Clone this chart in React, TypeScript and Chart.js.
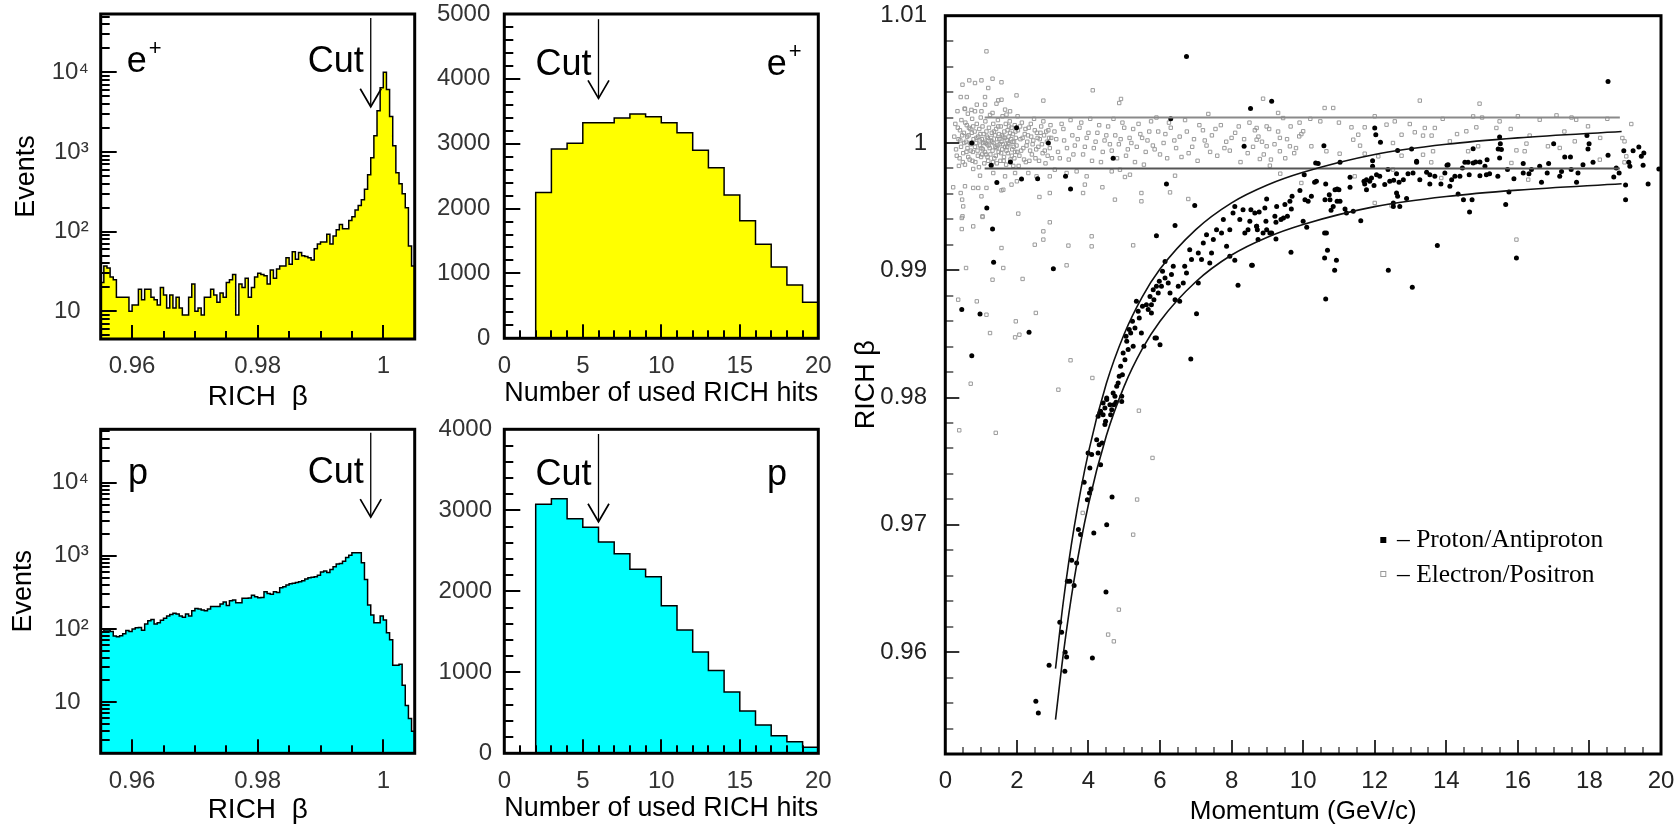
import React, { useEffect, useRef } from 'react';
import { Chart, registerables } from 'chart.js';

Chart.register(...registerables);

// ---------------- Histogram data ----------------
// RICH beta histograms: 100 bins of 0.0005 from 0.955 to 1.005
const betaBinStart = 0.955;
const betaBinWidth = 0.0005;
const positronBetaCounts = [
  23, 37, 35, 27, 25, 15, 15, 15, 15, 10,
  12, 12, 19, 14, 19, 19, 15, 14, 12, 20,
  16, 11, 16, 11, 15, 11, 9, 9, 15, 22,
  10, 11, 9, 15, 15, 19, 16, 13, 17, 15,
  23, 25, 29, 9, 22, 20, 26, 15, 20, 27,
  30, 29, 28, 22, 33, 26, 34, 37, 37, 47,
  39, 56, 45, 55, 50, 49, 47, 44, 61, 70,
  74, 74, 93, 70, 88, 106, 123, 109, 109, 138,
  154, 187, 213, 252, 340, 520, 850, 1600, 3300, 6400,
  10000, 6100, 2800, 1200, 550, 400, 300, 200, 66, 37,
];
const protonBetaCounts = [
  90, 97, 97, 92, 80, 78, 81, 86, 95, 92,
  100, 104, 105, 96, 117, 130, 135, 117, 122, 132,
  140, 150, 158, 164, 160, 150, 145, 160, 150, 178,
  191, 188, 181, 178, 187, 202, 202, 202, 219, 233,
  210, 243, 248, 229, 229, 262, 262, 265, 288, 276,
  267, 270, 323, 306, 297, 323, 316, 366, 378, 398,
  415, 420, 430, 442, 456, 481, 501, 510, 517, 540,
  600, 620, 593, 652, 708, 770, 786, 845, 948, 1020,
  1100, 1100, 1100, 803, 476, 212, 155, 122, 122, 150,
  133, 89, 71, 32, 32, 33, 17, 9, 6, 4,
];

// Number of used RICH hits: 20 bins of width 1 from 0 to 20
const hitsBinStart = 0;
const hitsBinWidth = 1;
const positronHitsCounts = [0, 0, 2246, 2919, 3006, 3325, 3325, 3397, 3458, 3417, 3325, 3171, 2898, 2631, 2210, 1814, 1449, 1100, 822, 555];
const protonHitsCounts = [0, 0, 3074, 3144, 2897, 2790, 2609, 2465, 2272, 2181, 1823, 1523, 1251, 1021, 757, 523, 350, 218, 144, 74];

const cutBeta = 0.998;
const cutHits = 6;

// ---------------- Tick labels ----------------
const betaTickValues = [0.96, 0.98, 1];
const logTickValues = [10, 100, 1000, 10000];
const logTickLabels = ['10\u2004', '10²', '10³', '10⁴'];
const hitsTickValues = [0, 5, 10, 15, 20];
const positronHitsYTicks = [0, 1000, 2000, 3000, 4000, 5000];
const protonHitsYTicks = [0, 1000, 2000, 3000, 4000];
const momentumTickValues = [0, 2, 4, 6, 8, 10, 12, 14, 16, 18, 20];
const richBetaTickValues = [0.96, 0.97, 0.98, 0.99, 1, 1.01];

// ---------------- Scatter data (momentum GeV/c, RICH beta) ----------------
const protonPoints: [number, number][] = [
  [6.74, 1.0068], [8.53, 1.0027], [6.30, 1.0019], [1.99, 1.0012], [0.74, 1.0000], [2.88, 1.0000], [8.35, 0.99974],
  [4.69, 0.9988], [1.28, 0.99825], [1.82, 0.9985], [1.44, 0.9969], [2.13, 0.99717], [2.58, 0.9972], [3.36, 0.99738],
  [3.50, 0.99639], [6.18, 0.99678], [6.97, 0.99508], [1.16, 0.99489], [1.32, 0.99324], [6.42, 0.99351], [5.90, 0.99272],
  [1.35, 0.99063], [3.02, 0.99013], [8.18, 0.98882], [7.02, 0.98659], [0.46, 0.98691], [0.97, 0.98657], [2.34, 0.98513],
  [0.74, 0.98329], [6.86, 0.98303], [8.58, 0.99039], [8.09, 0.99078], [7.07, 0.98900], [5.90, 0.98468], [6.0, 0.98416],
  [9.12, 1.00327],
  [3.20, 0.96235], [3.25, 0.96156], [2.90, 0.95897], [3.35, 0.95999], [3.39, 0.95962], [3.34, 0.9585], [2.53, 0.95614],
  [2.60, 0.95522], [4.11, 0.95954], [4.49, 0.96473], [4.51, 0.97], [4.66, 0.97219], [4.15, 0.96937], [3.41, 0.96557],
  [3.48, 0.96557], [3.60, 0.96523], [3.53, 0.96722], [3.67, 0.96701], [3.72, 0.96963], [3.78, 0.96924], [3.88, 0.97335],
  [3.99, 0.97565], [4.09, 0.97552], [4.04, 0.97447], [4.03, 0.97251], [4.07, 0.97282], [3.97, 0.97198], [4.23, 0.97669],
  [4.30, 0.97629], [4.27, 0.97565], [4.34, 0.97473], [4.38, 0.97644], [4.32, 0.97879], [4.41, 0.97866], [4.48, 0.97814],
  [4.46, 0.97788], [4.51, 0.97997], [4.65, 0.97905], [4.71, 0.97944], [4.77, 0.97963], [4.93, 0.9797],
  [4.27, 0.97853], [4.34, 0.97892], [4.46, 0.97918], [4.60, 0.97944], [4.62, 0.97866], [4.74, 0.9801], [4.79, 0.98089],
  [4.86, 0.98167], [4.90, 0.98246], [5.05, 0.98481], [5.14, 0.98534], [5.23, 0.98599], [5.30, 0.98547], [5.42, 0.98625],
  [5.51, 0.98717], [5.67, 0.98691], [5.72, 0.98795], [5.83, 0.98769], [5.98, 0.98913], [5.81, 0.98848],
  [4.41, 0.97958], [4.51, 0.97984], [4.69, 0.98036], [4.83, 0.98115], [4.93, 0.9801], [4.95, 0.9818], [5.02, 0.98298],
  [4.97, 0.9835], [5.11, 0.98377], [5.07, 0.98442], [5.18, 0.98507], [5.25, 0.98403], [5.34, 0.98756], [5.39, 0.98678],
  [5.48, 0.98507], [5.55, 0.98403], [5.62, 0.9873], [5.76, 0.9873], [5.76, 0.98665], [5.90, 0.98874], [5.95, 0.98822],
  [6.04, 0.98874], [6.14, 0.9894], [6.07, 0.98992], [6.23, 0.9890], [6.32, 0.98966], [6.37, 0.99031], [6.42, 0.98769],
  [6.51, 0.98874], [6.55, 0.98756], [6.65, 0.989], [6.69, 0.99031], [6.74, 0.98979], [6.83, 0.99162], [6.88, 0.99084],
  [7.07, 0.99136], [7.16, 0.99084], [7.21, 0.99214], [7.30, 0.9928], [7.44, 0.99136], [7.49, 0.99241], [7.58, 0.99319],
  [7.72, 0.99293], [7.77, 0.99398], [7.86, 0.99188], [7.95, 0.99319], [8.04, 0.9945], [8.09, 0.99502], [8.23, 0.99398],
  [8.32, 0.99476], [8.37, 0.99293], [8.46, 0.99319], [8.65, 0.9945], [8.70, 0.99345], [8.74, 0.99241], [7.95, 0.9911],
  [7.39, 0.99057], [6.14, 0.9907], [6.28, 0.98822], [5.86, 0.98468],
  [18.52, 1.00484], [12.0, 1.00118], [12.03, 1.00065], [12.16, 1.00005], [10.58, 0.99979], [15.49, 1.00047],
  [15.51, 0.99995], [15.54, 0.99948], [14.75, 0.99955], [12.64, 0.99942], [13.03, 0.99953], [17.93, 1.00058],
  [17.99, 0.99995], [17.96, 0.99953], [17.0, 0.99995], [17.31, 0.9989], [17.47, 0.9989], [18.52, 0.99903],
  [18.96, 0.9994], [19.22, 0.9994], [19.38, 0.99969], [19.45, 0.99895], [19.52, 0.99921], [19.50, 0.99825],
  [19.1, 0.99848], [19.13, 0.99817], [19.94, 0.99796], [19.64, 0.99678], [19.01, 0.99670], [19.01, 0.99555],
  [18.68, 0.99733], [18.83, 0.99764], [18.75, 0.99804], [17.64, 0.99691], [18.10, 0.99848], [17.82, 0.9983],
  [17.68, 0.99764], [17.49, 0.99791], [17.17, 0.99738], [17.22, 0.99777], [16.86, 0.99838], [16.61, 0.99817],
  [16.38, 0.99791], [16.15, 0.99838], [16.31, 0.99759], [16.66, 0.99691], [16.82, 0.99764], [15.71, 0.99791],
  [15.44, 0.99738], [15.21, 0.99759], [15.08, 0.99817], [15.14, 0.99869], [14.94, 0.99851], [14.82, 0.99851],
  [14.61, 0.99848], [14.52, 0.99848], [14.45, 0.99804], [14.64, 0.99751], [14.94, 0.99743], [14.38, 0.99738],
  [14.24, 0.99738], [14.15, 0.99712], [14.02, 0.99825], [13.96, 0.99764], [14.10, 0.9966], [13.85, 0.99678],
  [13.68, 0.99738], [13.54, 0.99678], [13.45, 0.9977], [13.26, 0.99712], [13.17, 0.99848], [13.07, 0.99764],
  [12.93, 0.99759], [12.80, 0.99712], [12.68, 0.99691], [12.61, 0.99607], [12.53, 0.99707], [12.42, 0.99699],
  [12.28, 0.99673], [12.14, 0.99738], [11.98, 0.99667], [11.94, 0.99861], [11.86, 0.99699], [11.77, 0.99633],
  [11.72, 0.99678], [12.89, 0.99563], [12.70, 0.99502], [12.52, 0.99529], [14.33, 0.99599], [14.48, 0.99555],
  [14.72, 0.99555], [14.65, 0.99458], [15.66, 0.99516], [15.75, 0.99615], [15.96, 0.99097], [13.75, 0.99194],
  [12.38, 0.99000], [13.05, 0.98866], [10.63, 0.98775], [10.68, 0.99157], [10.60, 0.99097], [10.93, 0.99078],
  [10.88, 0.99], [10.60, 0.99293], [11.61, 0.9939], [11.40, 0.99463], [11.17, 0.99482], [10.95, 0.99542],
  [10.78, 0.99471], [10.75, 0.99555], [10.61, 0.99555], [10.89, 0.99633], [10.95, 0.99639], [11.0, 0.99633],
  [10.63, 0.99678], [10.37, 0.99699], [10.05, 0.99555], [10.14, 0.99542], [10.23, 0.99581], [9.91, 0.99626],
  [9.69, 0.99581], [9.63, 0.99542], [9.49, 0.99516], [9.67, 0.99482], [9.26, 0.99502], [9.45, 0.99411],
  [9.56, 0.99424], [9.38, 0.99398], [9.21, 0.99424], [9.24, 0.99377], [8.96, 0.99385], [8.98, 0.99319],
  [8.88, 0.99293], [8.70, 0.99345], [8.72, 0.99319], [9.07, 0.99293], [9.12, 0.99293], [9.24, 0.99246],
  [9.66, 0.99141], [10.0, 0.99385], [10.1, 0.99338], [8.56, 0.99039], [8.98, 0.9956], [8.93, 0.99489],
  [8.77, 0.99458], [8.54, 0.99476], [8.51, 0.99385], [10.35, 0.99843], [10.42, 0.99838], [11.03, 0.99848],
  [11.31, 0.9973], [11.31, 0.99652], [11.70, 0.99699], [11.77, 0.99712], [11.91, 0.99725], [11.94, 0.99817],
  [12.05, 0.99751], [12.37, 0.99791], [12.61, 0.99759], [13.17, 0.99856], [13.54, 0.99751], [14.05, 0.9983],
  [15.49, 0.99882], [15.45, 0.99953], [12.64, 0.99581], [12.52, 0.99502], [10.03, 0.99751], [11.03, 0.99542],
  [11.21, 0.9945], [10.84, 0.99502], [10.73, 0.99594], [10.65, 0.99293], [10.32, 0.99691], [14.75, 0.99843],
  [15.12, 0.99751], [15.89, 0.9972], [16.15, 0.99764],
];

const electronPoints: [number, number][] = [
  // dense low-momentum band
  [0.25, 1.0005], [0.3, 0.9995], [0.35, 1.0012], [0.4, 0.9988], [0.42, 1.0002], [0.45, 1.0018], [0.5, 0.9992],
  [0.52, 1.0008], [0.55, 0.9983], [0.58, 1.0001], [0.6, 1.0014], [0.62, 0.9996], [0.65, 1.0006], [0.68, 0.9987],
  [0.7, 1.0011], [0.72, 0.9999], [0.75, 1.0019], [0.77, 0.9993], [0.79, 1.0003],
  [0.28, 1.0015], [0.32, 0.9990], [0.37, 1.0003], [0.41, 1.0010], [0.44, 0.9997], [0.47, 1.0006], [0.49, 0.9985],
  [0.53, 1.0000], [0.56, 1.0016], [0.59, 0.9993], [0.61, 1.0005], [0.64, 0.9989], [0.66, 1.0012], [0.69, 1.0000],
  [0.71, 0.9994], [0.74, 1.0008], [0.76, 0.9986], [0.78, 1.0013], [0.63, 1.0023], [0.38, 0.9982], [0.34, 1.0025],
  [0.54, 1.0027], [0.73, 1.0026],
  [0.82, 1.0009], [0.84, 0.9985], [0.86, 1.0000], [0.88, 1.0015], [0.9, 0.9994], [0.92, 1.0005], [0.94, 0.9981],
  [0.95, 1.0011], [0.97, 0.9998], [0.99, 1.0020], [1.0, 0.9989], [1.02, 1.0003], [1.04, 1.0013], [1.05, 0.9995],
  [1.07, 1.0007], [1.09, 0.9984], [1.1, 1.0001], [1.12, 1.0017], [1.14, 0.9991], [1.15, 1.0009], [1.17, 0.9999],
  [1.19, 1.0004], [1.2, 0.9986], [1.22, 1.0012], [1.24, 0.9996], [1.25, 1.0022], [1.27, 1.0002], [1.29, 0.9982],
  [1.3, 1.0008], [1.32, 0.9994], [1.34, 1.0015], [1.35, 1.0000], [1.37, 0.9988], [1.39, 1.0006], [1.4, 0.9997],
  [1.42, 1.0011], [1.44, 0.9984], [1.45, 1.0003], [1.47, 1.0018], [1.49, 0.9993], [1.5, 1.0007], [1.52, 0.9999],
  [1.54, 0.9986], [1.55, 1.0013], [1.57, 1.0001], [1.59, 0.9995], [1.6, 1.0021], [1.62, 1.0005], [1.64, 0.9989],
  [1.65, 1.0009], [1.67, 0.9997], [1.69, 1.0015], [1.7, 0.9983], [1.72, 1.0002], [1.74, 1.0010], [1.75, 0.9992],
  [1.77, 1.0005], [1.79, 0.9999], [1.8, 1.0017], [1.82, 0.9987], [1.84, 1.0003], [1.85, 1.0012], [1.87, 0.9995],
  [1.89, 1.0007], [1.9, 0.9982], [1.92, 1.0001], [1.94, 1.0014], [1.95, 0.9993], [1.97, 1.0004], [1.99, 0.9998],
  [0.83, 0.9997], [0.87, 1.0004], [0.91, 0.9990], [0.96, 1.0002], [1.01, 0.9996], [1.06, 1.0000], [1.11, 0.9993],
  [1.16, 1.0005], [1.21, 0.9998], [1.26, 0.9991], [1.31, 1.0001], [1.36, 1.0009], [1.41, 0.9990], [1.46, 0.9998],
  [1.51, 1.0003], [1.56, 0.9992], [1.61, 0.9999], [1.66, 1.0004], [1.71, 0.9994], [1.76, 1.0000], [1.81, 1.0008],
  [1.86, 0.9990], [1.91, 0.9997], [1.96, 1.0009], [2.01, 0.9993], [1.13, 1.0000], [1.28, 1.0004], [1.43, 0.9996],
  [1.58, 1.0006], [1.73, 0.9997], [1.88, 1.0001], [1.03, 0.9991], [0.98, 1.0007], [1.18, 0.9989], [1.33, 0.9985],
  [1.48, 1.0013], [1.63, 0.9986], [1.78, 1.0013], [1.93, 0.9988],
  [2.03, 1.0010], [2.07, 0.9990], [2.1, 1.0003], [2.14, 1.0016], [2.18, 0.9996], [2.22, 1.0007], [2.25, 0.9985],
  [2.29, 1.0001], [2.33, 1.0012], [2.37, 0.9994], [2.4, 1.0005], [2.44, 0.9999], [2.48, 1.0019], [2.52, 0.9988],
  [2.56, 1.0008], [2.6, 0.9997], [2.64, 1.0003], [2.68, 1.0013], [2.72, 0.9992], [2.76, 1.0006], [2.8, 0.9984],
  [2.84, 1.0001], [2.88, 1.0010], [2.92, 0.9996], [2.96, 1.0004],
  [2.02, 1.0021], [2.05, 0.9982], [2.09, 1.0013], [2.12, 0.9994], [2.16, 1.0004], [2.2, 0.9987], [2.24, 1.0011],
  [2.27, 0.9998], [2.31, 1.0006], [2.35, 0.9986], [2.39, 1.0015], [2.42, 0.9991], [2.46, 1.0002], [2.5, 1.0010],
  [2.54, 0.9995], [2.58, 1.0004], [2.62, 0.9986], [2.66, 1.0008], [2.7, 0.9999], [2.74, 1.0017], [2.78, 0.9994],
  [2.82, 1.0009], [2.86, 0.9990], [2.9, 1.0004], [2.94, 1.0014], [2.98, 0.9988], [3.1, 1.0003], [3.2, 0.9988],
  [3.3, 1.0011], [3.4, 0.9996], [3.5, 1.0018],
  // band 3 - 10 GeV/c
  [3.05, 1.0009], [3.15, 0.9993], [3.25, 1.0015], [3.32, 1.0002], [3.45, 0.9987], [3.55, 1.0006], [3.62, 0.9998],
  [3.75, 1.0012], [3.85, 0.9991], [3.95, 1.0004], [4.05, 1.0019], [4.15, 0.9996], [4.25, 1.0008], [4.35, 0.9985],
  [4.45, 1.0002], [4.55, 1.0013], [4.65, 0.9994], [4.75, 1.0006], [4.85, 0.9999], [4.95, 1.0016], [5.05, 0.9990],
  [5.15, 1.0004], [5.25, 1.0011], [5.35, 0.9997], [5.45, 1.0007], [5.55, 0.9983], [5.65, 1.0002], [5.75, 1.0017],
  [5.85, 0.9995], [5.95, 1.0009], [6.1, 1.0000], [6.2, 0.9988], [6.3, 1.0012], [6.45, 0.9996], [6.55, 1.0005],
  [6.7, 1.0018], [6.8, 0.9992], [6.95, 1.0003], [7.05, 0.9986], [7.2, 1.0010], [7.3, 0.9998], [7.45, 1.0006],
  [7.6, 0.9990], [7.7, 1.0014], [7.85, 1.0001], [7.95, 0.9994], [8.1, 1.0008], [8.25, 0.9985], [8.35, 1.0003],
  [8.5, 1.0016], [8.6, 0.9997], [8.75, 1.0005], [8.9, 0.9991], [9.05, 1.0011], [9.2, 0.9999], [9.35, 1.0004],
  [9.5, 0.9988], [9.65, 1.0013], [9.8, 0.9996], [9.95, 1.0007],
  [3.58, 0.9991], [3.7, 1.0003], [3.8, 1.0016], [3.9, 0.9997], [4.0, 1.0008], [4.1, 0.9986], [4.2, 1.0001],
  [4.3, 1.0014], [4.4, 0.9993], [4.5, 1.0006], [4.6, 0.9999], [4.7, 1.0019], [4.8, 0.9988], [4.9, 1.0003],
  [5.0, 1.0012], [5.1, 0.9995], [5.2, 1.0000], [5.3, 0.9985], [5.4, 1.0015], [5.5, 1.0004], [5.6, 0.9993],
  [5.7, 1.0009], [5.8, 0.9998], [5.9, 1.0020], [6.0, 0.9991], [6.15, 1.0007], [6.25, 1.0016], [6.4, 1.0002],
  [6.6, 0.9989], [6.75, 1.0009], [6.9, 0.9997], [7.1, 1.0014], [7.25, 1.0002], [7.4, 0.9993], [7.55, 1.0011],
  [7.8, 0.9996], [8.0, 1.0004], [8.2, 1.0013], [8.45, 0.9992], [8.65, 1.0010], [8.85, 1.0001], [9.1, 0.9987],
  [9.3, 1.0009], [9.55, 1.0003], [9.75, 0.9992], [9.9, 1.0016],
  // band above 8.7 GeV/c
  [8.70, 1.00118], [8.98, 1.0013], [9.44, 1.00196], [9.30, 1.00236], [9.89, 1.00052], [10.0, 1.00092], [10.48, 1.0017],
  [10.6, 1.00275], [10.84, 1.00275], [11.35, 1.00123], [11.72, 1.00123], [11.4, 1.00026], [11.59, 0.99979],
  [11.54, 1.00065], [12.33, 1.00144], [12.56, 1.0017], [12.98, 1.00149], [13.26, 1.00333], [13.40, 1.00118],
  [13.68, 1.00118], [13.59, 1.00058], [13.12, 1.00084], [13.35, 1.00058], [12.75, 1.00065], [12.51, 1.0],
  [14.93, 1.00309], [14.75, 1.00209], [14.84, 1.00123], [14.56, 1.00092], [15.4, 1.00118], [15.49, 1.0017],
  [16.33, 1.00058], [16.61, 1.00183], [17.08, 1.00217], [17.63, 1.00183], [17.96, 1.00131], [19.17, 1.00149],
  [18.92, 1.00039], [18.98, 1.00013], [19.03, 0.99895], [17.59, 1.00013], [17.17, 0.99961], [16.84, 0.99974],
  [16.24, 0.99995], [15.96, 0.99942], [16.19, 0.99935], [14.89, 0.99974], [14.61, 0.99935], [14.10, 1.00013],
  [13.63, 0.99935], [13.35, 0.99908], [12.75, 0.999], [12.10, 0.99895], [11.72, 0.99916], [11.02, 0.99916],
  [10.65, 0.99935], [10.23, 0.99974], [9.63, 0.99974], [9.35, 0.99935], [8.98, 0.99974], [8.70, 1.00026],
  [8.79, 0.99874], [9.07, 0.99822], [9.36, 0.99759], [9.95, 0.99686], [11.44, 0.99738], [12.0, 0.99529],
  [12.47, 0.99508], [15.82, 0.99843], [15.96, 0.99241], [16.29, 0.99712], [18.29, 0.99869], [18.98, 0.99848],
  [13.86, 0.99725], [13.58, 0.99848], [12.51, 0.99791], [10.2, 1.0019], [11.0, 1.0016], [12.0, 1.0021],
  [13.9, 1.0019], [15.0, 1.002], [16.0, 1.0021], [17.5, 1.002], [18.5, 1.0019], [14.3, 1.0007], [15.8, 1.0011],
  [17.3, 1.0009], [18.3, 1.0004],
  // above the band
  [0.48, 1.00458], [0.67, 1.00492], [0.83, 1.00471], [1.01, 1.00492], [1.32, 1.00505], [1.57, 1.00477],
  [1.20, 1.00432], [0.43, 1.00361], [0.60, 1.00361], [1.11, 1.00361], [1.99, 1.00374], [2.74, 1.00333],
  [4.12, 1.00414], [4.91, 1.00346], [4.86, 1.00314], [1.48, 1.00335], [1.57, 1.0034], [0.55, 1.00267],
  [0.88, 1.00301], [1.11, 1.00301], [1.43, 1.00309], [1.67, 1.00262], [0.83, 1.00249], [1.01, 1.00249],
  [1.81, 1.00249], [1.32, 1.00236], [1.71, 1.00223], [8.88, 1.00348], [7.35, 1.00228], [1.15, 1.0072],
  // below the band
  [0.22, 0.99652], [0.43, 0.99607], [0.55, 0.9966], [0.78, 0.99647], [0.92, 0.99647], [1.15, 0.99647],
  [1.62, 0.99633], [1.57, 0.99628], [1.85, 0.99673], [2.0, 0.99699], [1.01, 0.99581], [0.50, 0.99502],
  [0.48, 0.99424], [1.04, 0.99424], [2.04, 0.99445], [2.63, 0.99576], [2.92, 0.99607], [4.39, 0.99652],
  [3.9, 0.99673], [3.85, 0.99607], [5.48, 0.99607], [5.48, 0.99542], [4.74, 0.99555], [6.28, 0.99612],
  [6.42, 0.99743], [6.79, 0.9956], [5.02, 0.99733], [5.16, 0.99751], [3.95, 0.99738], [2.92, 0.99738],
  [1.34, 0.99764], [0.78, 0.99796], [0.97, 0.99743], [1.67, 0.99738], [1.95, 0.99764], [2.32, 0.99764],
  [2.55, 0.99738], [3.06, 0.9979], [3.39, 0.99764], [3.67, 0.99777], [4.65, 0.99777], [4.88, 0.9979],
  [0.47, 0.99555], [0.46, 0.99324], [0.78, 0.99345], [1.04, 0.99419], [0.46, 0.99411], [2.92, 0.99377],
  [2.74, 0.99306], [2.74, 0.99241], [2.50, 0.99201], [3.44, 0.99194], [4.09, 0.99267], [4.09, 0.99188],
  [5.25, 0.99196], [1.57, 0.99175], [0.58, 0.99018], [1.62, 0.99018], [1.32, 0.98926], [2.16, 0.98932],
  [3.39, 0.99039], [0.36, 0.98769], [0.88, 0.98756], [1.15, 0.98651], [2.53, 0.98665], [1.97, 0.98599],
  [1.25, 0.98507], [1.95, 0.98473], [2.07, 0.98494], [3.50, 0.98293], [0.71, 0.98109], [4.11, 0.98154],
  [3.16, 0.98062], [5.41, 0.97897], [0.39, 0.97743], [1.41, 0.97723], [5.79, 0.97526], [5.36, 0.97199],
  [5.25, 0.96923], [3.84, 0.97094], [4.85, 0.96334], [4.55, 0.96138], [4.71, 0.96085],
];

// Proton band curves
const curveMomentum = [3.08, 3.3, 3.6, 4.0, 4.5, 5.0, 5.5, 6.0, 7.0, 8.0, 9.0, 10.0, 12.0, 14.0, 16.0, 18.9];
const upperCurveBeta = [0.9587, 0.9640, 0.9698, 0.9757, 0.9811, 0.9850, 0.9879, 0.9901, 0.9932, 0.9953, 0.9967, 0.9977, 0.9991, 0.9999, 1.0004, 1.0009];
const lowerCurveBeta = [0.9547, 0.9599, 0.9657, 0.9716, 0.9770, 0.9809, 0.9838, 0.9860, 0.9891, 0.9912, 0.9926, 0.9936, 0.9950, 0.9958, 0.9963, 0.9968];
// Electron selection band
const bandLineMomentum = [1.1, 18.85];
const upperBandBeta = 1.002;
const lowerBandBeta = 0.998;

// ---------------- helpers ----------------
const SANS = '"Liberation Sans", Arial, Helvetica, sans-serif';
const SERIF = '"Liberation Serif", "Times New Roman", serif';

function range(a: number, b: number, step: number) {
  const out: number[] = [];
  const n = Math.round((b - a) / step);
  for (let i = 0; i <= n; i++) out.push(+(a + i * step).toFixed(6));
  return out;
}
function minorOf(all: number[], majors: number[]) {
  return all.filter((v) => !majors.some((m) => Math.abs(m - v) < 1e-9));
}
function logMinor(lo: number, hi: number) {
  const out: number[] = [];
  for (const d of [1, 10, 100, 1000, 10000]) for (let m = 2; m <= 9; m++) { const v = m * d; if (v > lo && v < hi) out.push(v); }
  return out;
}

// Frame plus inward tick marks on all axes (ROOT style). Tick positions come from the chart's scales.
function framePlugin(spec: any) {
  return {
    id: 'rootFrame',
    afterDraw(chart: any) {
      const ctx = chart.ctx;
      const a = chart.chartArea;
      const xs = chart.scales.x;
      const ys = chart.scales.y;
      ctx.save();
      ctx.fillStyle = spec.majorColor;
      const put = (horizontal: boolean, vals: number[], len: number, w: number, color: string) => {
        ctx.fillStyle = color;
        for (let i = 0; i < vals.length; i++) {
          if (horizontal) {
            const px = Math.round(xs.getPixelForValue(vals[i]));
            if (px > a.left + 1 && px < a.right - 1) ctx.fillRect(px - w / 2, a.bottom - len, w, len);
          } else {
            const py = Math.round(ys.getPixelForValue(vals[i]));
            if (py > a.top + 1 && py < a.bottom - 1) ctx.fillRect(a.left, py - w / 2, len, w);
          }
        }
      };
      put(true, spec.xMinor, spec.xMinorLen, spec.w, spec.minorColor);
      put(true, spec.xMajor, spec.xMajorLen, spec.w, spec.majorColor);
      put(false, spec.yMinor, spec.yMinorLen, spec.w, spec.minorColor);
      put(false, spec.yMajor, spec.yMajorLen, spec.w, spec.majorColor);
      ctx.strokeStyle = '#000';
      ctx.lineWidth = 3;
      ctx.strokeRect(a.left, a.top, a.right - a.left, a.bottom - a.top);
      ctx.restore();
    },
  };
}

function cutPlugin(spec: any) {
  return {
    id: 'cutMarker',
    afterDraw(chart: any) {
      const { ctx, chartArea: a, scales } = chart;
      const px = scales.x.getPixelForValue(spec.cutX);
      const yTop = scales.y.getPixelForValue(spec.cutTop);
      const yTip = scales.y.getPixelForValue(spec.cutTip);
      ctx.save();
      ctx.strokeStyle = '#000';
      ctx.lineWidth = 1.3;
      ctx.beginPath(); ctx.moveTo(px, yTop); ctx.lineTo(px, yTip); ctx.stroke();
      ctx.lineWidth = 1.7;
      ctx.beginPath(); ctx.moveTo(px - 10.5, yTip - 18); ctx.lineTo(px, yTip); ctx.lineTo(px + 10.5, yTip - 18); ctx.stroke();
      ctx.fillStyle = '#000';
      ctx.font = `36px ${SANS}`;
      ctx.textBaseline = 'alphabetic';
      ctx.textAlign = 'right';
      ctx.fillText('Cut', px - 7, a.top + spec.cutTextBaseline);
      ctx.textAlign = 'left';
      const x0 = spec.particleSide === 'left' ? a.left + spec.particleDx : a.right - spec.particleDx;
      ctx.fillText(spec.particle, x0, a.top + spec.particleBaseline);
      if (spec.particleSup) {
        const w = ctx.measureText(spec.particle).width;
        ctx.font = `22px ${SANS}`;
        ctx.fillText(spec.particleSup, x0 + w + 2, a.top + spec.particleBaseline - 17);
      }
      ctx.restore();
    },
  };
}

function histConfig(s: any) {
  const pts = s.counts.map((v: number, i: number) => ({ x: s.start + i * s.width, y: v }));
  pts.push({ x: s.start + s.counts.length * s.width, y: s.counts[s.counts.length - 1] });
  const tickFont = { family: SANS, size: 24 };
  return {
    type: 'line',
    data: {
      datasets: [{
        data: pts, stepped: 'before', fill: s.log ? 'start' : 'origin',
        backgroundColor: s.fill, borderColor: '#000', borderWidth: 1.5, pointRadius: 0,
      }],
    },
    options: {
      animation: false, responsive: false, events: [],
      layout: { padding: { top: s.padTop, right: s.padRight, left: 0, bottom: 0 } },
      plugins: { legend: { display: false }, tooltip: { enabled: false } },
      scales: {
        x: {
          type: 'linear', min: s.xMin, max: s.xMax, bounds: 'data',
          grid: { display: false }, border: { display: false },
          ticks: { autoSkip: false, maxRotation: 0, padding: s.xTickPad, color: '#333', font: tickFont, callback: s.xLabel },
          title: { display: true, text: s.xTitle, color: '#000', font: { family: SANS, size: 28 }, padding: { top: 0, bottom: s.xTitlePadBottom - 7 } },
          afterBuildTicks: (sc: any) => { sc.ticks = s.xTicks.map((v: number) => ({ value: v })); },
          afterFit: (sc: any) => { sc.height = s.xAxisH; sc.paddingLeft = 0; sc.paddingRight = 0; },
        },
        y: {
          type: s.log ? 'logarithmic' : 'linear', min: s.yMin, max: s.yMax, bounds: 'data',
          grid: { display: false }, border: { display: false },
          ticks: { autoSkip: false, padding: s.yTickPad, color: '#333', font: tickFont, callback: s.yLabel },
          title: { display: !!s.yTitle, text: s.yTitle || '', color: '#000', font: { family: SANS, size: 27 }, padding: { top: s.yTitlePadTop, bottom: 0 } },
          afterBuildTicks: (sc: any) => { sc.ticks = s.yTicks.map((v: number) => ({ value: v })); },
          afterFit: (sc: any) => { sc.width = s.yAxisW; sc.paddingTop = 0; sc.paddingBottom = 0; },
        },
      },
    },
    plugins: [
      framePlugin({
        xMajor: s.xTicks, xMinor: s.xMinor, yMajor: s.yTicks, yMinor: s.yMinor,
        xMajorLen: 14, xMinorLen: 8, yMajorLen: 16, yMinorLen: 9, majorColor: '#000', minorColor: '#000', w: 2,
      }),
      cutPlugin(s),
    ],
  };
}

const betaXLabel = (v: number) => (Math.abs(v - 1) < 1e-9 ? '1' : v.toFixed(2));
const logYLabel = (v: number) => { const i = logTickValues.indexOf(v); return i >= 0 ? logTickLabels[i] : ''; };
const plainLabel = (v: number) => String(v);

const betaCommon = {
  start: betaBinStart, width: betaBinWidth, log: true, xMin: 0.955, xMax: 1.005,
  xTicks: betaTickValues, xMinor: minorOf(range(0.96, 1.0, 0.005), betaTickValues), xLabel: betaXLabel,
  yTicks: logTickValues, yLabel: logYLabel, xTitle: 'RICH  β', yTitle: 'Events',
  padRight: 5.3, yAxisW: 100.7, yTickPad: 4, cutX: cutBeta,
};
const hitsCommon = {
  start: hitsBinStart, width: hitsBinWidth, log: false, xMin: 0, xMax: 20,
  xTicks: hitsTickValues, xMinor: minorOf(range(1, 19, 1), hitsTickValues), xLabel: plainLabel, yLabel: plainLabel,
  xTitle: 'Number of used RICH hits', padRight: 21.7, yAxisW: 84.3, cutX: cutHits, particleSide: 'right',
};

const panelSpecs = [
  {
    key: 'eBeta', left: 0, top: 0, w: 420, h: 410,
    spec: {
      ...betaCommon, counts: positronBetaCounts, fill: '#ffff00', yMin: 4.5, yMax: 54000, yMinor: logMinor(4.5, 54000),
      padTop: 14, xAxisH: 71, xTickPad: 4.9, xTitlePadBottom: 3.2, yTitlePadTop: 10.5,
      cutTop: 48000, cutTip: 3700, cutTextBaseline: 57.7, particle: 'e', particleSup: '+', particleSide: 'left', particleDx: 26, particleBaseline: 57.7,
    },
  },
  {
    key: 'eHits', left: 420, top: 0, w: 420, h: 410,
    spec: {
      ...hitsCommon, counts: positronHitsCounts, fill: '#ffff00', yMin: 0, yMax: 5000, yTicks: positronHitsYTicks,
      yMinor: minorOf(range(0, 5000, 200), positronHitsYTicks), padTop: 14, xAxisH: 71.7, xTickPad: 5.6, xTitlePadBottom: 6.5, yTickPad: 6,
      cutTop: 4920, cutTip: 3700, cutTextBaseline: 61, particle: 'e', particleSup: '+', particleDx: 51.6, particleBaseline: 61,
    },
  },
  {
    key: 'pBeta', left: 0, top: 410, w: 420, h: 418,
    spec: {
      ...betaCommon, counts: protonBetaCounts, fill: '#00ffff', yMin: 2, yMax: 53500, yMinor: logMinor(2, 53500),
      padTop: 19.3, xAxisH: 74.7, xTickPad: 5.6, xTitlePadBottom: 7.9, yTitlePadTop: 7.1,
      cutTop: 48000, cutTip: 3370, cutTextBaseline: 54, particle: 'p', particleSup: '', particleSide: 'left', particleDx: 27.3, particleBaseline: 54.7,
    },
  },
  {
    key: 'pHits', left: 420, top: 410, w: 420, h: 418,
    spec: {
      ...hitsCommon, counts: protonHitsCounts, fill: '#00ffff', yMin: 0, yMax: 4000, yTicks: protonHitsYTicks,
      yMinor: minorOf(range(0, 4000, 200), protonHitsYTicks), padTop: 19.3, xAxisH: 74.7, xTickPad: 5.6, xTitlePadBottom: 9.5, yTickPad: 4.3,
      cutTop: 3942, cutTip: 2859, cutTextBaseline: 55.7, particle: 'p', particleSup: '', particleDx: 51.3, particleBaseline: 55.7,
    },
  },
];

const legendPlugin = {
  id: 'scatterLegend',
  afterDraw(chart: any) {
    const { ctx, chartArea: a } = chart;
    ctx.save();
    ctx.fillStyle = '#000';
    ctx.fillRect(a.right - 280.7, a.top + 521.3, 6, 6);
    ctx.strokeStyle = '#9a9a9a';
    ctx.lineWidth = 1;
    ctx.strokeRect(a.right - 280.2, a.top + 555.8, 5, 5);
    ctx.font = `25.5px ${SERIF}`;
    ctx.textAlign = 'left';
    ctx.textBaseline = 'alphabetic';
    ctx.fillText('– Proton/Antiproton', a.right - 264, a.top + 531);
    ctx.fillText('– Electron/Positron', a.right - 264, a.top + 566);
    ctx.restore();
  },
};

function scatterConfig() {
  const tickFont = { family: SANS, size: 24 };
  const xMinor = minorOf(range(0, 20, 0.5), momentumTickValues);
  const yMinor = minorOf(range(0.952, 1.01, 0.002), richBetaTickValues);
  return {
    type: 'scatter',
    data: {
      datasets: [
        { data: curveMomentum.map((x, i) => ({ x, y: upperCurveBeta[i] })), showLine: true, cubicInterpolationMode: 'monotone', pointRadius: 0, borderColor: '#111', borderWidth: 1.6 },
        { data: curveMomentum.map((x, i) => ({ x, y: lowerCurveBeta[i] })), showLine: true, cubicInterpolationMode: 'monotone', pointRadius: 0, borderColor: '#111', borderWidth: 1.6 },
        { data: bandLineMomentum.map((x) => ({ x, y: upperBandBeta })), showLine: true, pointRadius: 0, borderColor: '#8a8a8a', borderWidth: 2 },
        { data: bandLineMomentum.map((x) => ({ x, y: lowerBandBeta })), showLine: true, pointRadius: 0, borderColor: '#555', borderWidth: 2 },
        { label: 'Proton/Antiproton', data: protonPoints.map(([x, y]) => ({ x, y })), pointStyle: 'circle', pointRadius: 2.5, backgroundColor: '#000', borderWidth: 0 },
        { label: 'Electron/Positron', data: electronPoints.map(([x, y]) => ({ x, y })), pointStyle: 'rect', pointRadius: 2.4, backgroundColor: 'rgba(255,255,255,0)', borderColor: '#9a9a9a', borderWidth: 1 },
      ],
    },
    options: {
      animation: false, responsive: false, events: [],
      layout: { padding: { top: 15.7, right: 17, left: 0, bottom: 0 } },
      plugins: { legend: { display: false }, tooltip: { enabled: false } },
      scales: {
        x: {
          type: 'linear', min: 0, max: 20, bounds: 'data',
          grid: { display: false }, border: { display: false },
          ticks: { autoSkip: false, maxRotation: 0, padding: 4.9, color: '#222', font: tickFont, callback: plainLabel },
          title: { display: true, text: 'Momentum (GeV/c)', color: '#000', font: { family: SANS, size: 26 }, padding: { top: 0, bottom: 0.7 } },
          afterBuildTicks: (sc: any) => { sc.ticks = momentumTickValues.map((v) => ({ value: v })); },
          afterFit: (sc: any) => { sc.height = 74; sc.paddingLeft = 0; sc.paddingRight = 0; },
        },
        y: {
          type: 'linear', min: 0.952, max: 1.01, bounds: 'data',
          grid: { display: false }, border: { display: false },
          ticks: { autoSkip: false, padding: 10.3, color: '#222', font: tickFont, callback: (v: number) => (Math.abs(v - 1) < 1e-9 ? '1' : String(+v.toFixed(2))) },
          title: { display: true, text: 'RICH β', color: '#000', font: { family: SANS, size: 27 }, padding: { top: 10.5, bottom: 0 } },
          afterBuildTicks: (sc: any) => { sc.ticks = richBetaTickValues.map((v) => ({ value: v })); },
          afterFit: (sc: any) => { sc.width = 105.3; sc.paddingTop = 0; sc.paddingBottom = 0; },
        },
      },
    },
    plugins: [
      framePlugin({
        xMajor: momentumTickValues, xMinor, yMajor: richBetaTickValues, yMinor,
        xMajorLen: 14, xMinorLen: 7, yMajorLen: 14, yMinorLen: 8, majorColor: '#333', minorColor: '#777', w: 2,
      }),
      legendPlugin,
    ],
  };
}

function ChartCanvas({ left, top, w, h, make }: { left: number; top: number; w: number; h: number; make: () => any }) {
  const ref = useRef<HTMLCanvasElement>(null);
  useEffect(() => {
    const chart = new Chart(ref.current as HTMLCanvasElement, make());
    return () => chart.destroy();
  }, []);
  return <canvas ref={ref} width={w} height={h} style={{ position: 'absolute', left, top, width: w, height: h }} />;
}

export default function App() {
  return (
    <div style={{ position: 'absolute', left: 0, top: 0, width: 1678, height: 828, background: '#fff', overflow: 'hidden' }}>
      {panelSpecs.map((p) => (
        <ChartCanvas key={p.key} left={p.left} top={p.top} w={p.w} h={p.h} make={() => histConfig(p.spec)} />
      ))}
      <ChartCanvas left={840} top={0} w={838} h={828} make={scatterConfig} />
    </div>
  );
}
